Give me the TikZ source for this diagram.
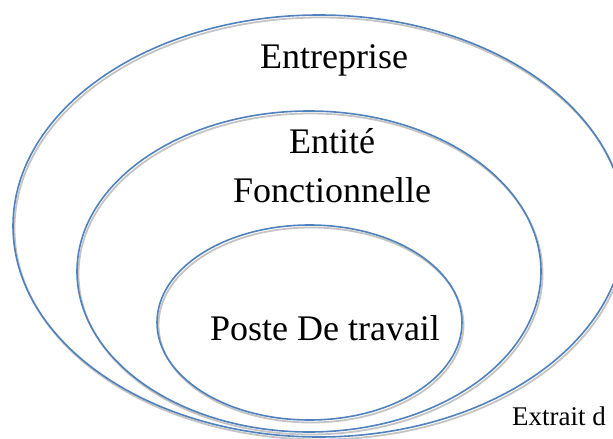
\documentclass[tikz,border=0pt]{standalone}
\usepackage{fontspec}
\setmainfont{Liberation Serif}
\usetikzlibrary{shapes.geometric}
\definecolor{ringblue}{HTML}{4F81BD}
\definecolor{ringgray}{HTML}{C4C4C4}
\tikzset{
  ring/.style={ellipse, draw=ringblue, line width=1.6pt, inner sep=0pt},
  ringsh/.style={ellipse, draw=ringgray, line width=1.8pt, inner sep=0pt},
  lbl/.style={anchor=base, inner sep=0pt, font=\fontsize{36}{40}\selectfont},
  note/.style={anchor=base west, inner sep=0pt, font=\fontsize{27}{30}\selectfont},
}

\begin{document}
\begin{tikzpicture}[x=1pt, y=-1pt]
    \useasboundingbox (0,0) rectangle (613,439);
    \clip (0,0) rectangle (613,439);
    % grey shadows of the rings
    \node[ringsh, minimum width=612pt, minimum height=422pt] (entrepriseSh) at (320.5,228.5) {};
    \node[ringsh, minimum width=464pt, minimum height=321pt] (entiteSh) at (310.5,274) {};
    \node[ringsh, minimum width=305pt, minimum height=195pt] (posteSh) at (311,325) {};
    % rings
    \node[ring, minimum width=612pt, minimum height=422pt] (entreprise) at (319,226) {};
    \node[ring, minimum width=464pt, minimum height=321pt] (entite) at (309,271.5) {};
    \node[ring, minimum width=305pt, minimum height=195pt] (poste) at (309.5,322.5) {};
    % labels
    \node[lbl] (entrepriseLbl) at (334,68) {Entreprise};
    \node[lbl] (entiteLbl) at (332,153) {Entité};
    \node[lbl] (fonctLbl) at (332,202) {Fonctionnelle};
    \node[lbl] (posteLbl) at (325,340) {Poste De travail};
    \node[note] (extrait) at (512,425) {Extrait d};
\end{tikzpicture}
\end{document}
